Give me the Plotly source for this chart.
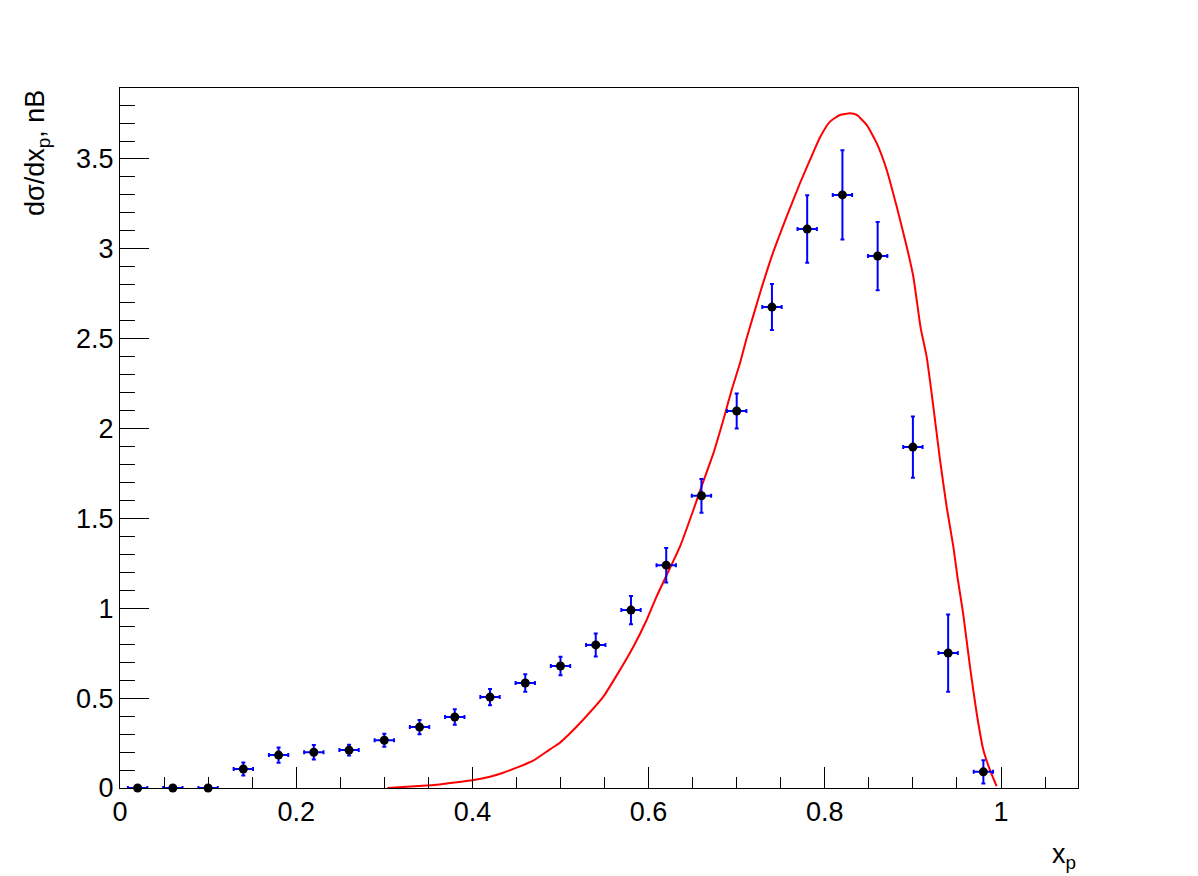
import plotly.graph_objects as go

# ---- data points (bin centres, values, vertical errors) ----
x_points = [0.02, 0.06, 0.10, 0.14, 0.18, 0.22, 0.26, 0.30, 0.34, 0.38,
            0.42, 0.46, 0.50, 0.54, 0.58, 0.62, 0.66, 0.70, 0.74, 0.78,
            0.82, 0.86, 0.90, 0.94, 0.98]
y_points = [0.0, 0.0, 0.0, 0.106, 0.183, 0.199, 0.211, 0.266, 0.339, 0.395,
            0.506, 0.584, 0.679, 0.796, 0.990, 1.240, 1.626, 2.098, 2.676, 3.110,
            3.300, 2.960, 1.897, 0.751, 0.090]
y_errors = [0.0, 0.0, 0.0, 0.036, 0.042, 0.040, 0.030, 0.036, 0.040, 0.043,
            0.045, 0.049, 0.052, 0.064, 0.079, 0.096, 0.094, 0.097, 0.128, 0.188,
            0.248, 0.190, 0.170, 0.215, 0.065]
x_half_width = 0.011

# ---- model curve ----
curve_x = [0.3034, 0.3386, 0.3594, 0.380, 0.400, 0.420, 0.435, 0.450, 0.469, 0.488,
           0.4994, 0.510, 0.522, 0.5486, 0.5675, 0.5827, 0.5978, 0.609, 0.6205, 0.6356,
           0.6508, 0.660, 0.6735, 0.6848, 0.6943, 0.7037, 0.7113, 0.7264, 0.7397, 0.7567,
           0.7718, 0.7832, 0.7945, 0.8059, 0.8172, 0.8286, 0.8362, 0.8475, 0.8589, 0.8703,
           0.8816, 0.893, 0.9005, 0.9088, 0.9156, 0.9232, 0.9308, 0.9383, 0.9459, 0.9508,
           0.957, 0.9648, 0.9724, 0.980, 0.9875, 0.995]
curve_y = [0.0, 0.011, 0.018, 0.030, 0.043, 0.063, 0.085, 0.113, 0.152, 0.215,
           0.252, 0.300, 0.360, 0.508, 0.657, 0.786, 0.935, 1.065, 1.185, 1.343,
           1.547, 1.677, 1.862, 2.048, 2.215, 2.363, 2.502, 2.753, 2.957, 3.179,
           3.365, 3.495, 3.620, 3.708, 3.745, 3.754, 3.745, 3.690, 3.588, 3.439,
           3.235, 3.012, 2.845, 2.560, 2.400, 2.122, 1.825, 1.565, 1.343, 1.167,
           0.972, 0.675, 0.416, 0.211, 0.100, 0.011]

x_range = [0, 1.0874]
y_range = [0, 3.895]
x_title = "x<sub>p</sub>"
y_title = "dσ/dx<sub>p</sub>, nB"

FONT = "Liberation Sans, Arial, Helvetica, sans-serif"

fig = go.Figure()
fig.add_trace(go.Scatter(
    x=curve_x, y=curve_y, mode="lines",
    line=dict(color="#ff0000", width=2, shape="spline", smoothing=0.5),
    showlegend=False, hoverinfo="skip"))
fig.add_trace(go.Scatter(
    x=x_points, y=y_points, mode="markers",
    marker=dict(color="black", size=9, symbol="circle"),
    error_y=dict(type="data", array=y_errors, visible=True,
                 color="#0000ff", thickness=2, width=2),
    error_x=dict(type="constant", value=x_half_width, visible=True,
                 color="#0000ff", thickness=2, width=2),
    cliponaxis=False, showlegend=False))

axis_common = dict(
    showline=True, linecolor="black", linewidth=1, mirror=True,
    ticks="inside", tickcolor="black", tickwidth=1,
    showgrid=False, zeroline=False,
    tickfont=dict(family=FONT, size=27, color="black"),
)

fig.update_xaxes(range=x_range, tick0=0, dtick=0.2, ticklen=21,
                 minor=dict(ticks="inside", ticklen=11, dtick=0.05, tick0=0,
                            tickcolor="black", showgrid=False),
                 **axis_common)
fig.update_yaxes(range=y_range, tick0=0, dtick=0.5, ticklen=29,
                 minor=dict(ticks="inside", ticklen=15, dtick=0.1, tick0=0,
                            tickcolor="black", showgrid=False),
                 **axis_common)

fig.update_layout(
    width=1198, height=876,
    margin=dict(l=112, r=128, t=80, b=96, pad=0),
    plot_bgcolor="white", paper_bgcolor="white",
    font=dict(family=FONT, size=27, color="black"),
    annotations=[
        dict(text=y_title, textangle=-90, xref="paper", yref="paper",
             x=-0.0866, y=1.0, xanchor="center", yanchor="top",
             showarrow=False, font=dict(family=FONT, size=27, color="black")),
        dict(text=x_title, xref="paper", yref="paper",
             x=1.0, y=-0.07, xanchor="right", yanchor="top",
             showarrow=False, font=dict(family=FONT, size=27, color="black")),
    ],
)

fig.write_html("out.html")
